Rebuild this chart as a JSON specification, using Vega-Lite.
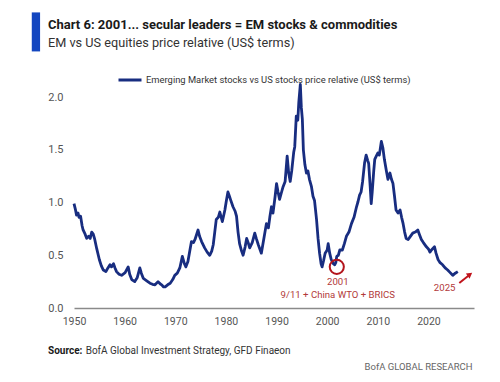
{
  "$schema": "https://vega.github.io/schema/vega-lite/v6.json",
  "width": 400,
  "height": 232,
  "autosize": {"type": "none"},
  "padding": {"left": 74, "top": 76, "right": 26, "bottom": 74},
  "background": "white",
  "config": {
    "view": {"stroke": null},
    "font": "Roboto",
    "text": {"font": "Roboto"},
    "axis": {
      "grid": false,
      "ticks": false,
      "labelFont": "Roboto",
      "labelColor": "#555555",
      "title": null
    }
  },
  "data": {
    "values": [
      {"year": 1950.0, "value": 0.99}, {"year": 1950.3, "value": 0.93}, {"year": 1950.5, "value": 0.88},
      {"year": 1950.8, "value": 0.90}, {"year": 1951.0, "value": 0.86}, {"year": 1951.3, "value": 0.87},
      {"year": 1951.6, "value": 0.78}, {"year": 1951.8, "value": 0.74}, {"year": 1952.2, "value": 0.70},
      {"year": 1952.5, "value": 0.66}, {"year": 1952.9, "value": 0.68}, {"year": 1953.2, "value": 0.66},
      {"year": 1953.5, "value": 0.72}, {"year": 1953.8, "value": 0.70}, {"year": 1954.1, "value": 0.65},
      {"year": 1954.5, "value": 0.56}, {"year": 1955.0, "value": 0.46}, {"year": 1955.4, "value": 0.40},
      {"year": 1955.8, "value": 0.36}, {"year": 1956.3, "value": 0.345}, {"year": 1956.7, "value": 0.38},
      {"year": 1957.1, "value": 0.41}, {"year": 1957.4, "value": 0.39}, {"year": 1957.8, "value": 0.42},
      {"year": 1958.1, "value": 0.38}, {"year": 1958.4, "value": 0.345}, {"year": 1958.9, "value": 0.32},
      {"year": 1959.4, "value": 0.31}, {"year": 1960.1, "value": 0.335}, {"year": 1960.7, "value": 0.39},
      {"year": 1961.0, "value": 0.32}, {"year": 1961.4, "value": 0.27}, {"year": 1962.0, "value": 0.25},
      {"year": 1962.5, "value": 0.29}, {"year": 1963.0, "value": 0.38}, {"year": 1963.3, "value": 0.33},
      {"year": 1963.7, "value": 0.28}, {"year": 1964.3, "value": 0.26}, {"year": 1965.0, "value": 0.235},
      {"year": 1965.5, "value": 0.225}, {"year": 1966.0, "value": 0.22}, {"year": 1966.6, "value": 0.25},
      {"year": 1967.0, "value": 0.23}, {"year": 1967.3, "value": 0.22}, {"year": 1967.7, "value": 0.20},
      {"year": 1968.0, "value": 0.20}, {"year": 1968.5, "value": 0.22}, {"year": 1969.0, "value": 0.235},
      {"year": 1969.5, "value": 0.27}, {"year": 1969.9, "value": 0.31}, {"year": 1970.4, "value": 0.33},
      {"year": 1970.9, "value": 0.38}, {"year": 1971.4, "value": 0.49}, {"year": 1971.8, "value": 0.42},
      {"year": 1972.1, "value": 0.39}, {"year": 1972.5, "value": 0.44}, {"year": 1972.9, "value": 0.55},
      {"year": 1973.2, "value": 0.63}, {"year": 1973.6, "value": 0.62}, {"year": 1973.9, "value": 0.65},
      {"year": 1974.5, "value": 0.74}, {"year": 1974.8, "value": 0.68}, {"year": 1975.2, "value": 0.63},
      {"year": 1975.8, "value": 0.57}, {"year": 1976.3, "value": 0.53}, {"year": 1976.8, "value": 0.50},
      {"year": 1977.2, "value": 0.54}, {"year": 1977.5, "value": 0.60}, {"year": 1977.8, "value": 0.72},
      {"year": 1978.1, "value": 0.84}, {"year": 1978.5, "value": 0.86}, {"year": 1978.8, "value": 0.91},
      {"year": 1979.3, "value": 0.82}, {"year": 1979.8, "value": 0.93}, {"year": 1980.1, "value": 1.02},
      {"year": 1980.4, "value": 1.10}, {"year": 1980.7, "value": 1.06}, {"year": 1980.9, "value": 1.03},
      {"year": 1981.4, "value": 0.96}, {"year": 1981.8, "value": 0.92}, {"year": 1982.1, "value": 0.87},
      {"year": 1982.4, "value": 0.72}, {"year": 1982.7, "value": 0.61}, {"year": 1983.1, "value": 0.54},
      {"year": 1983.4, "value": 0.50}, {"year": 1983.8, "value": 0.58}, {"year": 1984.1, "value": 0.66},
      {"year": 1984.4, "value": 0.62}, {"year": 1984.7, "value": 0.57}, {"year": 1985.2, "value": 0.62},
      {"year": 1985.7, "value": 0.71}, {"year": 1986.0, "value": 0.66}, {"year": 1986.4, "value": 0.60},
      {"year": 1987.0, "value": 0.52}, {"year": 1987.5, "value": 0.66}, {"year": 1988.0, "value": 0.80},
      {"year": 1988.4, "value": 0.76}, {"year": 1988.7, "value": 0.87}, {"year": 1989.0, "value": 0.96},
      {"year": 1989.3, "value": 0.90}, {"year": 1989.7, "value": 1.05}, {"year": 1990.0, "value": 1.18},
      {"year": 1990.3, "value": 1.10}, {"year": 1990.6, "value": 1.03}, {"year": 1991.0, "value": 1.10},
      {"year": 1991.3, "value": 1.15}, {"year": 1991.7, "value": 1.20}, {"year": 1992.1, "value": 1.44},
      {"year": 1992.4, "value": 1.28}, {"year": 1992.7, "value": 1.20}, {"year": 1993.0, "value": 1.30},
      {"year": 1993.4, "value": 1.48}, {"year": 1993.6, "value": 1.53}, {"year": 1993.9, "value": 1.82},
      {"year": 1994.2, "value": 1.78}, {"year": 1994.4, "value": 1.95}, {"year": 1994.7, "value": 2.12},
      {"year": 1994.9, "value": 1.90}, {"year": 1995.1, "value": 1.79}, {"year": 1995.3, "value": 1.50},
      {"year": 1995.6, "value": 1.36}, {"year": 1995.9, "value": 1.28}, {"year": 1996.2, "value": 1.30},
      {"year": 1996.5, "value": 1.22}, {"year": 1996.9, "value": 1.15}, {"year": 1997.2, "value": 1.06},
      {"year": 1997.5, "value": 1.02}, {"year": 1997.9, "value": 0.84}, {"year": 1998.2, "value": 0.66},
      {"year": 1998.5, "value": 0.52}, {"year": 1998.8, "value": 0.42}, {"year": 1999.0, "value": 0.39},
      {"year": 1999.3, "value": 0.45}, {"year": 1999.6, "value": 0.52}, {"year": 2000.0, "value": 0.55},
      {"year": 2000.2, "value": 0.61}, {"year": 2000.5, "value": 0.52}, {"year": 2000.8, "value": 0.46},
      {"year": 2001.2, "value": 0.42}, {"year": 2001.5, "value": 0.41}, {"year": 2001.7, "value": 0.43},
      {"year": 2001.9, "value": 0.49}, {"year": 2002.2, "value": 0.50}, {"year": 2002.5, "value": 0.55},
      {"year": 2003.0, "value": 0.55}, {"year": 2003.4, "value": 0.61}, {"year": 2003.8, "value": 0.68},
      {"year": 2004.3, "value": 0.72}, {"year": 2004.8, "value": 0.80}, {"year": 2005.3, "value": 0.86},
      {"year": 2005.8, "value": 0.96}, {"year": 2006.1, "value": 1.01}, {"year": 2006.4, "value": 1.07},
      {"year": 2006.7, "value": 1.10}, {"year": 2007.0, "value": 1.20}, {"year": 2007.4, "value": 1.38},
      {"year": 2007.7, "value": 1.45}, {"year": 2008.0, "value": 1.40}, {"year": 2008.2, "value": 1.37},
      {"year": 2008.5, "value": 1.15}, {"year": 2008.7, "value": 0.99}, {"year": 2008.9, "value": 1.10},
      {"year": 2009.2, "value": 1.30}, {"year": 2009.4, "value": 1.41}, {"year": 2009.7, "value": 1.44},
      {"year": 2010.0, "value": 1.47}, {"year": 2010.3, "value": 1.45}, {"year": 2010.7, "value": 1.58},
      {"year": 2011.0, "value": 1.52}, {"year": 2011.3, "value": 1.41}, {"year": 2011.7, "value": 1.30},
      {"year": 2012.0, "value": 1.22}, {"year": 2012.4, "value": 1.28}, {"year": 2012.7, "value": 1.22},
      {"year": 2013.0, "value": 1.18}, {"year": 2013.3, "value": 1.06}, {"year": 2013.6, "value": 0.93},
      {"year": 2014.0, "value": 0.90}, {"year": 2014.4, "value": 0.93}, {"year": 2014.7, "value": 0.86},
      {"year": 2015.0, "value": 0.80}, {"year": 2015.3, "value": 0.72}, {"year": 2015.6, "value": 0.66},
      {"year": 2016.0, "value": 0.65}, {"year": 2016.3, "value": 0.67}, {"year": 2016.9, "value": 0.71},
      {"year": 2017.4, "value": 0.72}, {"year": 2017.9, "value": 0.74}, {"year": 2018.2, "value": 0.70},
      {"year": 2018.6, "value": 0.65}, {"year": 2019.0, "value": 0.62}, {"year": 2019.6, "value": 0.58},
      {"year": 2020.0, "value": 0.56}, {"year": 2020.3, "value": 0.53}, {"year": 2020.6, "value": 0.55},
      {"year": 2021.2, "value": 0.58}, {"year": 2021.5, "value": 0.52}, {"year": 2021.9, "value": 0.46},
      {"year": 2022.3, "value": 0.43}, {"year": 2022.8, "value": 0.41}, {"year": 2023.3, "value": 0.38},
      {"year": 2023.8, "value": 0.36}, {"year": 2024.2, "value": 0.34}, {"year": 2024.8, "value": 0.31},
      {"year": 2025.3, "value": 0.33}, {"year": 2025.8, "value": 0.345}
    ]
  },
  "layer": [
    {
      "mark": {"type": "line", "strokeWidth": 2.8, "strokeJoin": "round", "clip": false},
      "encoding": {
        "x": {
          "field": "year", "type": "quantitative",
          "scale": {"domain": [1950, 2029], "nice": false, "zero": false},
          "axis": {
            "values": [1950, 1960, 1970, 1980, 1990, 2000, 2010, 2020],
            "format": "d",
            "labelFlush": false,
            "labelFontSize": 10.5,
            "domainColor": "#8a8a8a",
            "domainWidth": 1.5,
            "labelPadding": 8
          }
        },
        "y": {
          "field": "value", "type": "quantitative",
          "scale": {"domain": [0, 2.2], "nice": false},
          "axis": {
            "values": [0, 0.5, 1.0, 1.5, 2.0],
            "format": ".1f",
            "labelFlush": false,
            "labelFontSize": 11,
            "domain": false,
            "labelPadding": 11
          }
        },
        "color": {
          "datum": "Emerging Market stocks vs US stocks price relative (US$ terms)",
          "scale": {"range": ["#182d80"]},
          "legend": {
            "title": null,
            "orient": "none",
            "legendX": 43,
            "legendY": -9,
            "symbolType": "stroke",
            "symbolSize": 529,
            "symbolStrokeWidth": 3,
            "labelFont": "Roboto",
            "labelFontSize": 9.4,
            "labelColor": "#333333",
            "labelOffset": 3,
            "labelLimit": 400
          }
        }
      }
    },
    {
      "data": {"values": [{"x": 2001.9, "y": 0.39}]},
      "mark": {"type": "point", "shape": "circle", "filled": false, "size": 200, "stroke": "#b3141c", "strokeWidth": 2, "opacity": 1},
      "encoding": {"x": {"field": "x", "type": "quantitative"}, "y": {"field": "y", "type": "quantitative"}}
    },
    {
      "data": {"values": [
        {"x": 2002.1, "y": 0.25, "label": "2001"},
        {"x": 2002.1, "y": 0.123, "label": "9/11 + China WTO + BRICS"},
        {"x": 2023.2, "y": 0.19, "label": "2025"}
      ]},
      "mark": {"type": "text", "align": "center", "baseline": "middle", "fontSize": 9.6, "color": "#b23a3a"},
      "encoding": {"x": {"field": "x", "type": "quantitative"}, "y": {"field": "y", "type": "quantitative"}, "text": {"field": "label"}}
    },
    {
      "data": {"values": [{"x": 2026.1, "y": 0.237, "x2": 2027.9, "y2": 0.305}]},
      "mark": {"type": "rule", "stroke": "#c0141c", "strokeWidth": 2},
      "encoding": {"x": {"field": "x", "type": "quantitative"}, "y": {"field": "y", "type": "quantitative"}, "x2": {"field": "x2"}, "y2": {"field": "y2"}}
    },
    {
      "data": {"values": [{"x": 2028.2, "y": 0.318}]},
      "mark": {"type": "point", "shape": "triangle-up", "filled": true, "size": 40, "color": "#c0141c", "angle": 54, "opacity": 1},
      "encoding": {"x": {"field": "x", "type": "quantitative"}, "y": {"field": "y", "type": "quantitative"}}
    },
    {
      "data": {"values": [{"x": 1941.66, "x2": 1943.3, "y": 2.803, "y2": 2.433}]},
      "mark": {"type": "rect", "color": "#1346c0", "clip": false},
      "encoding": {"x": {"field": "x", "type": "quantitative"}, "x2": {"field": "x2"}, "y": {"field": "y", "type": "quantitative"}, "y2": {"field": "y2"}}
    },
    {
      "data": {"values": [{"x": 1944.87, "y": 2.648, "label": "Chart 6: 2001... secular leaders = EM stocks & commodities"}]},
      "mark": {"type": "text", "align": "left", "baseline": "alphabetic", "fontWeight": "bold", "fontSize": 13, "color": "#1a1a1a"},
      "encoding": {"x": {"field": "x", "type": "quantitative"}, "y": {"field": "y", "type": "quantitative"}, "text": {"field": "label"}}
    },
    {
      "data": {"values": [{"x": 1944.87, "y": 2.477, "label": "EM vs US equities price relative (US$ terms)"}]},
      "mark": {"type": "text", "align": "left", "baseline": "alphabetic", "fontSize": 12.7, "color": "#333333"},
      "encoding": {"x": {"field": "x", "type": "quantitative"}, "y": {"field": "y", "type": "quantitative"}, "text": {"field": "label"}}
    },
    {
      "data": {"values": [{"x": 1944.87, "y": -0.437, "label": "Source:"}]},
      "mark": {"type": "text", "align": "left", "baseline": "alphabetic", "fontWeight": "bold", "fontSize": 10, "color": "#1a1a1a"},
      "encoding": {"x": {"field": "x", "type": "quantitative"}, "y": {"field": "y", "type": "quantitative"}, "text": {"field": "label"}}
    },
    {
      "data": {"values": [{"x": 1952.3, "y": -0.437, "label": "BofA Global Investment Strategy, GFD Finaeon"}]},
      "mark": {"type": "text", "align": "left", "baseline": "alphabetic", "fontSize": 10, "color": "#333333"},
      "encoding": {"x": {"field": "x", "type": "quantitative"}, "y": {"field": "y", "type": "quantitative"}, "text": {"field": "label"}}
    },
    {
      "data": {"values": [{"x": 2028.7, "y": -0.588, "label": "BofA GLOBAL RESEARCH"}]},
      "mark": {"type": "text", "align": "right", "baseline": "alphabetic", "fontSize": 9.5, "color": "#666666"},
      "encoding": {"x": {"field": "x", "type": "quantitative"}, "y": {"field": "y", "type": "quantitative"}, "text": {"field": "label"}}
    }
  ]
}
